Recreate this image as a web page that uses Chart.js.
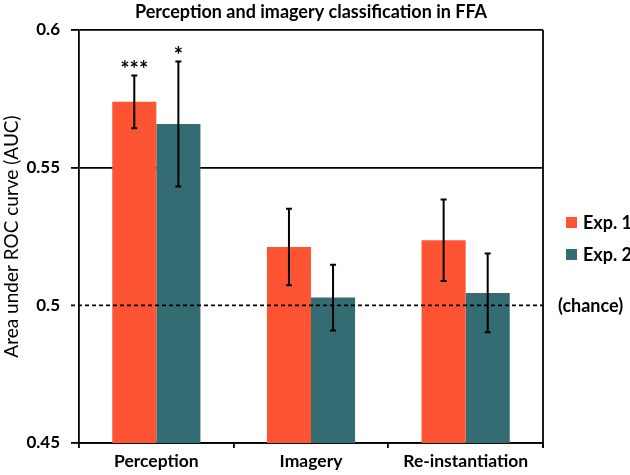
<!DOCTYPE html>
<html>
<head>
<meta charset="utf-8">
<script src="https://cdn.jsdelivr.net/npm/chart.js@4/dist/chart.umd.min.js"></script>
<style>
html,body{margin:0;padding:0;background:#fff;}
#wrap{width:630px;height:475px;position:relative;}
</style>
</head>
<body>
<div id="wrap"><canvas id="c" width="630" height="475"></canvas></div>
<script>
const categories = ["Perception", "Imagery", "Re-instantiation"];
const seriesNames = ["Exp. 1", "Exp. 2"];
const exp1Values = [0.5739, 0.5212, 0.5236];
const exp2Values = [0.5659, 0.5028, 0.5045];
const exp1Errors = [0.0096, 0.0139, 0.0148];
const exp2Errors = [0.0227, 0.0119, 0.0143];
const exp1Stars = ["***", "", ""];
const exp2Stars = ["*", "", ""];
const yTicks = [0.45, 0.5, 0.55, 0.6];
const chanceLevel = 0.5;
const chanceLabel = "(chance)";
const titleText = "Perception and imagery classification in FFA";
const yTitle = "Area under ROC curve (AUC)";

const ORANGE = "#FD5434";
const TEAL = "#336C72";
const FONT = "Lato, 'Open Sans', sans-serif";

const errs = [exp1Errors, exp2Errors];
const stars = [exp1Stars, exp2Stars];

const overlay = {
  id: "overlay",
  afterDatasetsDraw(chart) {
    const ctx = chart.ctx;
    const ya = chart.scales.y;
    const a = chart.chartArea;
    ctx.save();
    // chance line dashed
    const yc = ya.getPixelForValue(chanceLevel);
    ctx.strokeStyle = "#000";
    ctx.lineWidth = 1.6;
    ctx.setLineDash([4, 3]);
    ctx.beginPath();
    ctx.moveTo(a.left - 8, yc);
    ctx.lineTo(a.right, yc);
    ctx.stroke();
    ctx.setLineDash([]);
    // right border
    ctx.lineWidth = 1.8;
    ctx.beginPath();
    ctx.moveTo(a.right, a.top);
    ctx.lineTo(a.right, a.bottom + 5);
    ctx.stroke();
    // error bars
    chart.data.datasets.forEach((ds, i) => {
      const meta = chart.getDatasetMeta(i);
      meta.data.forEach((el, j) => {
        const v = ds.data[j], e = errs[i][j];
        const x = el.x;
        const yt = ya.getPixelForValue(v + e);
        const yb = ya.getPixelForValue(v - e);
        ctx.lineWidth = 2;
        ctx.beginPath();
        ctx.moveTo(x, yt); ctx.lineTo(x, yb);
        ctx.moveTo(x - 3, yt); ctx.lineTo(x + 3, yt);
        ctx.moveTo(x - 3, yb); ctx.lineTo(x + 3, yb);
        ctx.stroke();
        const s = stars[i][j];
        if (s) {
          ctx.fillStyle = "#000";
          ctx.font = "bold 22px " + FONT;
          ctx.textAlign = "center";
          ctx.textBaseline = "alphabetic";
          ctx.fillText(s, x, yt + 2);
        }
      });
    });
    // title
    ctx.fillStyle = "#000";
    ctx.font = "bold 18px " + FONT;
    ctx.textAlign = "center";
    ctx.textBaseline = "middle";
    ctx.fillText(titleText, (a.left + a.right) / 2, 12);
    // legend
    ctx.textAlign = "left";
    ctx.font = "bold 18px " + FONT;
    const ly = [222.5, 254.5];
    chart.data.datasets.forEach((ds, i) => {
      ctx.fillStyle = ds.backgroundColor;
      ctx.fillRect(566, ly[i] - 5.5, 11, 11);
      ctx.fillStyle = "#000";
      ctx.fillText(ds.label, 583, ly[i] + 1);
    });
    ctx.fillText(chanceLabel, 558, yc + 1);
    ctx.restore();
  }
};

new Chart(document.getElementById("c"), {
  type: "bar",
  data: {
    labels: categories,
    datasets: [
      { label: seriesNames[0], data: exp1Values, backgroundColor: ORANGE, borderWidth: 0 },
      { label: seriesNames[1], data: exp2Values, backgroundColor: TEAL, borderWidth: 0 }
    ]
  },
  options: {
    responsive: false,
    animation: false,
    devicePixelRatio: 1,
    layout: { padding: { top: 30, right: 87, left: 0, bottom: 0 } },
    plugins: { legend: { display: false }, tooltip: { enabled: false }, title: { display: false } },
    datasets: { bar: { categoryPercentage: 0.57, barPercentage: 1.0 } },
    scales: {
      x: {
        offset: true,
        grid: { offset: true, drawOnChartArea: false, drawTicks: true, tickLength: 5, color: "#000", lineWidth: 1.8 },
        border: { display: true, color: "#000", width: 1.8 },
        ticks: { color: "#000", font: { family: FONT, size: 17.5, weight: "bold" }, padding: 3 },
        afterFit(s) { s.height = 32; }
      },
      y: {
        min: 0.45, max: 0.6,
        afterBuildTicks(s) { s.ticks = yTicks.map(v => ({ value: v })); },
        grid: {
          drawTicks: true, tickLength: 8,
          color: ctx => (ctx.tick && Math.abs(ctx.tick.value - chanceLevel) < 1e-9) ? "rgba(0,0,0,0)" : "#000",
          lineWidth: 1.8
        },
        border: { display: true, color: "#000", width: 1.8 },
        ticks: {
          color: "#000", font: { family: FONT, size: 17, weight: "bold" }, padding: 11,
          callback: v => String(Number(v.toFixed(2)))
        },
        title: { display: true, text: yTitle, color: "#000", font: { family: FONT, size: 19, weight: "normal" }, padding: { top: 0, bottom: 0 } },
        afterFit(s) { s.width = 79; }
      }
    }
  },
  plugins: [overlay]
});
</script>
</body>
</html>
